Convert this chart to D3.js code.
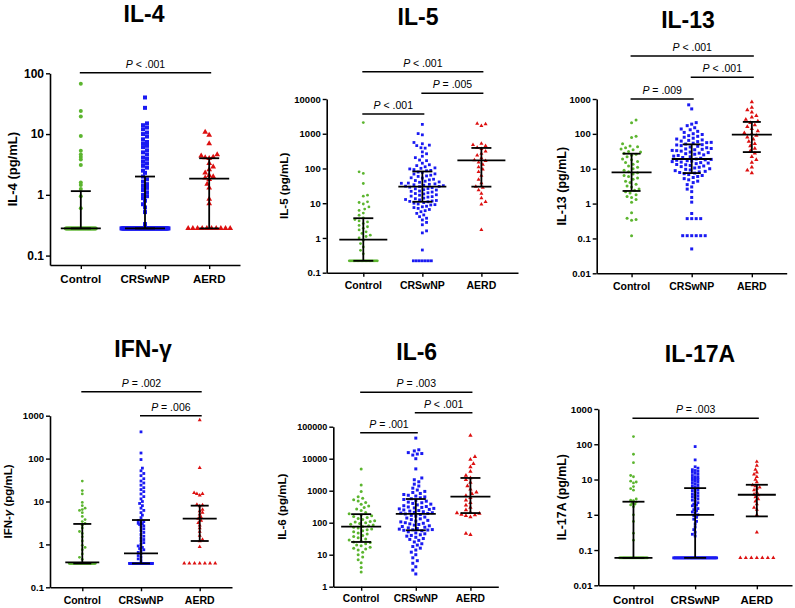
<!DOCTYPE html>
<html>
<head>
<meta charset="utf-8">
<script src="https://cdn.jsdelivr.net/npm/d3@7"></script>
<style>
  body { margin: 0; background: #fff; }
  text { font-family: "Liberation Sans", Arial, sans-serif; }
</style>
</head>
<body>
<svg id="chart" width="795" height="608"></svg>
<script>
// groups shared by all six panels
const groups = ["Control", "CRSwNP", "AERD"];
const groupColors = ["#5cb52f", "#1a1af2", "#dd1010"];

// ---- IL-4 (values above the detection limit)
const il4Control = [67, 24, 19.5, 9.3, 5.3, 4.6, 4.2, 3.8, 3.1, 1.6, 1.45, 1.25, 0.95, 0.6];
const il4Crswnp = [40, 27, 15, 14, 12.8, 12, 10.6, 10, 9.1, 8.2, 7.4, 7, 6.4, 6.1, 5.4, 5, 4.6, 4.1, 3.9, 3.5, 3.3, 3.0, 2.8, 2.5, 2.3, 2.0, 1.8, 1.65, 1.5, 1.4, 1.3, 1.2, 1.1, 1.0, 0.95, 0.88, 0.8, 0.7, 0.62, 0.52, 0.33];
const il4Aerd = [10.8, 9.6, 7.0, 4.6, 4.4, 4.2, 4.1, 4.0, 3.3, 2.9, 2.6, 2.3, 2.1, 2.0, 1.9, 1.8, 1.5, 1.3, 0.85, 0.72];
const il4Lod = 0.28;
const il4LodCounts = [40, 59, 10];
const il4Median = [0.28, 0.28, 1.85];
const il4Q1 = [0.28, 0.28, 0.28];
const il4Q3 = [1.15, 2.0, 4.0];
const il4Ticks = [0.1, 1, 10, 100];
const il4Comparisons = [["Control", "AERD", "< .001"]];

// ---- IL-5
const il5Control = [2100, 80, 72, 37, 17, 16, 11, 10.5, 9.5, 7.8, 6.8, 6.2, 5.2, 4.5, 3.8, 3.4, 3.1, 2.9, 2.6, 2.3, 2.1, 1.9, 1.7, 1.5, 1.35, 1.2, 1.1, 1.0, 0.86, 0.69, 0.55, 0.44, 0.35];
const il5Crswnp = [1860, 1010, 930, 560, 515, 470, 455, 395, 385, 300, 265, 225, 205, 175, 168, 142, 128, 121, 112, 104, 101, 97, 93, 88, 86, 79, 77, 70, 69, 64, 61, 59, 54, 53, 49, 47, 45, 43, 41, 40, 38, 37.5, 36, 35, 34, 33, 32, 31, 30.5, 30, 29, 28, 26.5, 26, 24.5, 24, 22.5, 22, 21, 20, 19, 18.5, 17.5, 17, 16, 15.5, 15, 14, 13.5, 12.8, 12.5, 12, 11.6, 11.3, 11, 10.4, 10, 9.5, 9.1, 8.9, 8.2, 7.9, 7.5, 7.1, 6.6, 6.1, 5.7, 5.1, 4.6, 4.1, 3.7, 3.3, 2.8, 2.4, 1.6, 1.4, 0.45];
const il5Aerd = [1950, 1700, 1900, 520, 480, 450, 400, 370, 310, 270, 240, 200, 175, 165, 150, 130, 110, 95, 80, 62, 48, 38, 30, 28, 24, 19, 14, 11, 9.3, 1.7];
const il5Lod = 0.22;
const il5LodCounts = [22, 7, 0];
const il5Median = [0.9, 30, 170];
const il5Q1 = [0.22, 11, 30];
const il5Q3 = [3.7, 82, 390];
const il5Ticks = [0.1, 1, 10, 100, 1000, 10000];
const il5Comparisons = [["Control", "AERD", "< .001"], ["CRSwNP", "AERD", "= .005"], ["Control", "CRSwNP", "< .001"]];

// ---- IL-13
const il13Control = [250, 210, 85, 78, 52, 45, 43, 40, 37, 35, 31, 30, 28, 26, 24.5, 22, 19, 18, 16, 15, 13.5, 12, 11, 10, 9, 8.2, 7.6, 7, 6.4, 6, 5.4, 5, 4.4, 4, 3.6, 3.2, 3.0, 2.6, 2.4, 2.2, 2.0, 1.8, 1.6, 1.5, 1.3, 1.1, 0.55, 0.38, 0.35, 0.33, 0.12];
const il13Crswnp = [680, 520, 210, 190, 172, 150, 138, 131, 118, 110, 101, 96, 89, 85, 80, 75, 71, 67, 65, 62, 60, 57, 56, 54, 51, 49, 48, 46, 44, 42, 40, 38, 37, 36, 35, 33.5, 33, 32, 30, 29, 28, 27, 26, 25, 24, 23, 22, 21, 20, 19, 18.5, 18, 17.5, 17, 16.5, 16, 15.5, 15, 14.5, 14, 13.2, 13, 12.4, 12, 11.5, 11, 10.5, 10, 9.6, 9.2, 8.8, 8.4, 8.1, 7.8, 7.5, 7.2, 6.8, 6.4, 6.0, 5.6, 5.2, 4.8, 4.4, 4.0, 3.5, 3.0, 2.6, 2.2, 1.5, 1.1, 0.52, 0.37, 0.37, 0.37, 0.37, 0.12, 0.12, 0.12, 0.12, 0.12, 0.12, 0.05];
const il13Aerd = [820, 570, 480, 420, 330, 300, 260, 230, 210, 180, 160, 140, 120, 105, 100, 90, 80, 70, 60, 52, 45, 38, 32, 28, 22, 18, 15, 11, 9, 7.5];
const il13Lod = 0.01;
const il13LodCounts = [0, 0, 0];
const il13Median = [7.9, 19, 95];
const il13Q1 = [2.3, 7.5, 30];
const il13Q3 = [27, 50, 220];
const il13Ticks = [0.01, 0.1, 1, 10, 100, 1000];
const il13Comparisons = [["Control", "AERD", "< .001"], ["CRSwNP", "AERD", "< .001"], ["Control", "CRSwNP", "= .009"]];

// ---- IFN-gamma
const ifnControl = [30, 18, 15, 9.5, 8, 7, 6.5, 6.2, 5.5, 4.5, 3.8, 3.4, 3.1, 2.8, 2.4, 2.0, 1.8, 1.5, 1.2, 0.95, 0.85, 0.75, 0.6, 0.5, 0.45];
const ifnCrswnp = [420, 135, 95, 60, 52, 45, 40, 34, 30, 27, 24, 21, 19, 17, 15, 13, 11.5, 10, 9, 8, 7, 6.2, 5.5, 4.8, 4.2, 3.6, 3.4, 3.2, 3.1, 3.0, 2.9, 2.7, 2.5, 2.3, 2.1, 1.9, 1.7, 1.55, 1.4, 1.3, 1.2, 1.1, 1.0, 0.92, 0.85, 0.8, 0.75, 0.7, 0.65, 0.6, 0.55, 0.5, 0.46, 0.42];
const ifnAerd = [790, 61, 16, 15, 15, 14, 8.5, 8.2, 7.8, 6.5, 6, 5.5, 5, 4.3, 4, 3.6, 3.2, 2.8, 2.4, 2, 1.6, 1.3, 1.2, 0.88];
const ifnLod = 0.36;
const ifnLodCounts = [30, 45, 7];
const ifnMedian = [0.38, 0.62, 4.0];
const ifnQ1 = [0.36, 0.36, 1.2];
const ifnQ3 = [3.0, 3.7, 8.0];
const ifnTicks = [0.1, 1, 10, 100, 1000];
const ifnComparisons = [["Control", "AERD", "= .002"], ["CRSwNP", "AERD", "= .006"]];

// ---- IL-6
const il6Control = [4800, 1500, 950, 650, 580, 520, 480, 430, 380, 330, 300, 270, 240, 210, 190, 175, 165, 155, 145, 135, 125, 115, 110, 105, 100, 95, 90, 85, 80, 76, 72, 68, 64, 60, 56, 52, 48, 44, 40, 37, 34, 31, 29, 27, 25, 24, 22, 20, 19, 17, 16, 15, 14, 12, 10, 8.5, 7, 5.6, 4, 2.9];
const il6Crswnp = [44000, 19000, 17500, 15500, 14500, 14000, 13000, 10000, 4800, 2500, 2200, 1900, 1600, 1400, 1200, 1050, 950, 880, 820, 760, 720, 680, 640, 600, 560, 530, 500, 470, 440, 420, 400, 380, 360, 340, 320, 310, 300, 290, 280, 270, 260, 250, 240, 230, 220, 210, 205, 200, 195, 188, 180, 170, 160, 150, 140, 132, 125, 118, 112, 106, 100, 96, 92, 88, 84, 80, 76, 72, 69, 66, 63, 61, 60, 59, 58, 56, 52, 48, 45, 42, 40, 38, 35, 32, 30, 28, 25, 22, 20, 18, 16, 14, 12, 10, 8, 6.5, 5.4, 4.2, 3.3, 2.5];
const il6Aerd = [53000, 11500, 9500, 7000, 5500, 4000, 3000, 2500, 2200, 1800, 1400, 1100, 900, 800, 700, 600, 500, 420, 350, 300, 250, 210, 200, 195, 180, 175, 165, 150, 46, 42];
const il6Lod = 1;
const il6LodCounts = [0, 0, 0];
const il6Median = [75, 190, 650];
const il6Q1 = [25, 58, 200];
const il6Q3 = [185, 550, 2500];
const il6Ticks = [1, 10, 100, 1000, 10000, 100000];
const il6Comparisons = [["Control", "AERD", "= .003"], ["CRSwNP", "AERD", "< .001"], ["Control", "CRSwNP", "= .001"]];

// ---- IL-17A
const il17Control = [165, 52, 30, 13, 12, 9, 8.5, 8, 6.3, 5.5, 5, 2.8, 2.6, 2.5, 2.3, 2.1, 2.0, 1.9, 1.7, 1.0, 0.65, 0.3, 0.19];
const il17Crswnp = [86, 36, 23, 21, 19, 18, 17, 16, 15, 14, 13, 12, 11.5, 11, 10.5, 10, 9.5, 9, 8.5, 8, 7.5, 7, 6.6, 6.2, 5.9, 5.6, 5.3, 5, 4.7, 4.4, 4.1, 3.8, 3.6, 3.4, 3.2, 3, 2.8, 2.6, 2.4, 2.2, 2, 1.9, 1.8, 1.6, 1.5, 1.4, 1.3, 1.2, 1.1, 1.0, 0.95, 0.85, 0.75, 0.65, 0.55, 0.45, 0.38, 0.32, 0.28, 0.25];
const il17Aerd = [32, 25, 19, 16, 14, 12, 10, 8.5, 7, 6.5, 6, 5.5, 5, 4.3, 3.8, 3.6, 3.2, 2.8, 2.4, 2, 1.6, 1.4, 1.0, 0.32];
const il17Lod = 0.06;
const il17LodCounts = [32, 40, 7];
const il17Median = [0.06, 1.0, 3.7];
const il17Q1 = [0.06, 0.06, 0.9];
const il17Q3 = [2.35, 5.7, 7.1];
const il17Ticks = [0.01, 0.1, 1, 10, 100, 1000];
const il17Comparisons = [["Control", "AERD", "= .003"]];

// panel layout (positions and sizes only)
const panels = [
  { title: "IL-4", unit: "IL-4", data: [il4Control, il4Crswnp, il4Aerd], lod: il4Lod, lodCounts: il4LodCounts,
    median: il4Median, q1: il4Q1, q3: il4Q3, ticks: il4Ticks, comps: il4Comparisons,
    x0: 50, x1: 240, pad: 0.48, yTop: 73.3, yBot: 265, dom: [0.07, 100], titleX: 144, titleY: 14,
    labelX: 12, catY: 279, tickFs: 12, catFs: 11.5, labelFs: 13, size: 4, gap: 1, spread: [1.5, 3, 16], rowW: [30, 47, 42],
    mh: 20, qh: 10, brackets: [72.7] },
  { title: "IL-5", unit: "IL-5", data: [il5Control, il5Crswnp, il5Aerd], lod: il5Lod, lodCounts: il5LodCounts,
    median: il5Median, q1: il5Q1, q3: il5Q3, ticks: il5Ticks, comps: il5Comparisons,
    x0: 326.7, x1: 518, pad: 0.62, yTop: 99, yBot: 272.7, dom: [0.1, 10000], titleX: 418, titleY: 17,
    labelX: 283, catY: 285, tickFs: 9.5, catFs: 10.5, labelFs: 11.6, size: 2.8, gap: 1.5, spread: [10, 21, 18], rowW: [28, 18, 0],
    mh: 24, qh: 10, brackets: [71.7, 93.3, 114] },
  { title: "IL-13", unit: "IL-13", data: [il13Control, il13Crswnp, il13Aerd], lod: il13Lod, lodCounts: il13LodCounts,
    median: il13Median, q1: il13Q1, q3: il13Q3, ticks: il13Ticks, comps: il13Comparisons,
    x0: 596.7, x1: 786.7, pad: 0.58, yTop: 99, yBot: 273.3, dom: [0.01, 1000], titleX: 688, titleY: 19.5,
    labelX: 561.7, catY: 286, tickFs: 9.5, catFs: 10.5, labelFs: 12.5, size: 3, gap: 1.5, spread: [19, 20, 13], rowW: [0, 0, 0],
    mh: 20, qh: 9, brackets: [56, 77.3, 99] },
  { title: "IFN-γ", unit: "IFN-γ", data: [ifnControl, ifnCrswnp, ifnAerd], lod: ifnLod, lodCounts: ifnLodCounts,
    median: ifnMedian, q1: ifnQ1, q3: ifnQ3, ticks: ifnTicks, comps: ifnComparisons,
    x0: 50, x1: 232, pad: 0.55, yTop: 415.7, yBot: 587.3, dom: [0.1, 1000], titleX: 143, titleY: 348.5,
    labelX: 8, catY: 600, tickFs: 9.5, catFs: 10.5, labelFs: 11.5, size: 2.8, gap: 1, spread: [3, 3.5, 15], rowW: [26, 23, 31],
    mh: 17, qh: 9, brackets: [391.7, 415.7] },
  { title: "IL-6", unit: "IL-6", data: [il6Control, il6Crswnp, il6Aerd], lod: il6Lod, lodCounts: il6LodCounts,
    median: il6Median, q1: il6Q1, q3: il6Q3, ticks: il6Ticks, comps: il6Comparisons,
    x0: 333.3, x1: 498.3, pad: 0.51, yTop: 426.7, yBot: 586.7, dom: [1, 100000], titleX: 416.7, titleY: 352,
    labelX: 281.7, catY: 598, tickFs: 9, catFs: 10.3, labelFs: 11.6, size: 3, gap: 1.4, spread: [19, 19, 14], rowW: [0, 0, 0],
    mh: 20, qh: 10, brackets: [392.3, 412.7, 432.7] },
  { title: "IL-17A", unit: "IL-17A", data: [il17Control, il17Crswnp, il17Aerd], lod: il17Lod, lodCounts: il17LodCounts,
    median: il17Median, q1: il17Q1, q3: il17Q3, ticks: il17Ticks, comps: il17Comparisons,
    x0: 598.3, x1: 792, pad: 0.57, yTop: 409, yBot: 585.3, dom: [0.01, 1000], titleX: 700, titleY: 353.5,
    labelX: 561.7, catY: 600, tickFs: 9.7, catFs: 11.5, labelFs: 12.4, size: 2.8, gap: 1, spread: [3, 4, 15], rowW: [28, 43, 33],
    mh: 19, qh: 11, brackets: [418.3] }
];

const symbolTypes = [d3.symbolCircle, d3.symbolSquare, d3.symbolTriangle];

// simple beeswarm: rows at the detection limit first, then the rest, capped in width
function placePoints(vals, lodCount, lodValue, y, cx, size, gap, spread, rowW) {
  const placed = [];
  if (lodCount > 0) {
    const yy = y(lodValue);
    for (let i = 0; i < lodCount; i++) {
      const x = lodCount === 1 ? cx : cx - rowW / 2 + i * rowW / (lodCount - 1);
      placed.push({ x: x, y: yy });
    }
  }
  const minDist = size * gap;
  const step = size * 0.5;
  const sorted = vals.slice().sort((a, b) => a - b);
  sorted.forEach((v, idx) => {
    const yy = y(v);
    let best = cx, bestD = -1, done = false;
    const first = idx % 2 === 0 ? 1 : -1;
    for (let k = 0; k * step <= spread + 0.01 && !done; k++) {
      const signs = k === 0 ? [1] : [first, -first];
      for (const s of signs) {
        const x = cx + s * k * step;
        let dmin = Infinity;
        for (const p of placed) {
          const d = Math.hypot(p.x - x, p.y - yy);
          if (d < dmin) dmin = d;
        }
        if (dmin >= minDist) { best = x; done = true; break; }
        if (dmin > bestD) { bestD = dmin; best = x; }
      }
    }
    placed.push({ x: best, y: yy });
  });
  return placed;
}

const svg = d3.select("#chart");

panels.forEach(p => {
  const g = svg.append("g");

  const x = d3.scalePoint().domain(groups).range([p.x0, p.x1]).padding(p.pad);
  const y = d3.scaleLog().domain(p.dom).range([p.yBot, p.yTop]);

  // title
  g.append("text")
    .attr("x", p.titleX).attr("y", p.titleY)
    .attr("text-anchor", "middle").attr("dominant-baseline", "central")
    .attr("font-size", 23).attr("font-weight", "bold")
    .text(p.title);

  // y axis
  const yAxis = g.append("g")
    .attr("transform", `translate(${p.x0},0)`)
    .call(d3.axisLeft(y).tickValues(p.ticks).tickFormat(d3.format("")).tickSize(4).tickSizeOuter(0));
  yAxis.selectAll("text").attr("font-size", p.tickFs).attr("font-weight", "bold").attr("x", -6)
    .attr("font-family", "Liberation Sans, Arial, sans-serif");

  // x axis
  const xAxis = g.append("g")
    .attr("transform", `translate(0,${p.yBot})`)
    .call(d3.axisBottom(x).tickSize(4).tickSizeOuter(0));
  xAxis.selectAll("text").remove();
  [yAxis, xAxis].forEach(a => {
    a.select(".domain").attr("stroke-width", 1.6);
    a.selectAll(".tick line").attr("stroke-width", 1.4);
  });

  // category labels
  g.selectAll(".cat").data(groups).enter().append("text")
    .attr("x", d => x(d)).attr("y", p.catY)
    .attr("text-anchor", "middle").attr("dominant-baseline", "central")
    .attr("font-size", p.catFs).attr("font-weight", "bold")
    .text(d => d);

  // y label
  const yl = g.append("text")
    .attr("transform", `translate(${p.labelX},${(p.yTop + p.yBot) / 2}) rotate(-90)`)
    .attr("text-anchor", "middle").attr("dominant-baseline", "central")
    .attr("font-size", p.labelFs).attr("font-weight", "bold");
  if (p.unit === "IFN-γ") {
    yl.append("tspan").text("IFN-");
    yl.append("tspan").attr("font-style", "italic").text("γ");
    yl.append("tspan").text(" (pg/mL)");
  } else {
    yl.text(p.unit + " (pg/mL)");
  }

  // points
  groups.forEach((grp, i) => {
    const pts = placePoints(p.data[i], p.lodCounts[i], p.lod, y, x(grp), p.size, p.gap, p.spread[i], p.rowW[i]);
    const area = i === 0 ? Math.PI * p.size * p.size / 4 : i === 1 ? p.size * p.size : p.size * p.size * 0.9;
    g.append("g").selectAll("path").data(pts).enter().append("path")
      .attr("transform", d => `translate(${d.x},${d.y})`)
      .attr("d", d3.symbol().type(symbolTypes[i]).size(area))
      .attr("fill", groupColors[i]);
  });

  // median and interquartile range
  groups.forEach((grp, i) => {
    const cx = x(grp);
    const lines = [
      [cx, y(p.q1[i]), cx, y(p.q3[i])],
      [cx - p.mh, y(p.median[i]), cx + p.mh, y(p.median[i])],
      [cx - p.qh, y(p.q1[i]), cx + p.qh, y(p.q1[i])],
      [cx - p.qh, y(p.q3[i]), cx + p.qh, y(p.q3[i])]
    ];
    g.append("g").selectAll("line").data(lines).enter().append("line")
      .attr("x1", d => d[0]).attr("y1", d => d[1])
      .attr("x2", d => d[2]).attr("y2", d => d[3])
      .attr("stroke", "#000").attr("stroke-width", 1.8);
  });

  // significance brackets
  p.comps.forEach((c, i) => {
    const by = p.brackets[i];
    const xa = x(c[0]) - 1, xb = x(c[1]) + 2;
    g.append("line")
      .attr("x1", xa).attr("x2", xb).attr("y1", by).attr("y2", by)
      .attr("stroke", "#000").attr("stroke-width", 1.5);
    const t = g.append("text")
      .attr("x", (xa + xb) / 2).attr("y", by - 5)
      .attr("text-anchor", "middle").attr("font-size", 10.5);
    t.append("tspan").attr("font-style", "italic").text("P");
    t.append("tspan").text(" " + c[2]);
  });
});
</script>
</body>
</html>
